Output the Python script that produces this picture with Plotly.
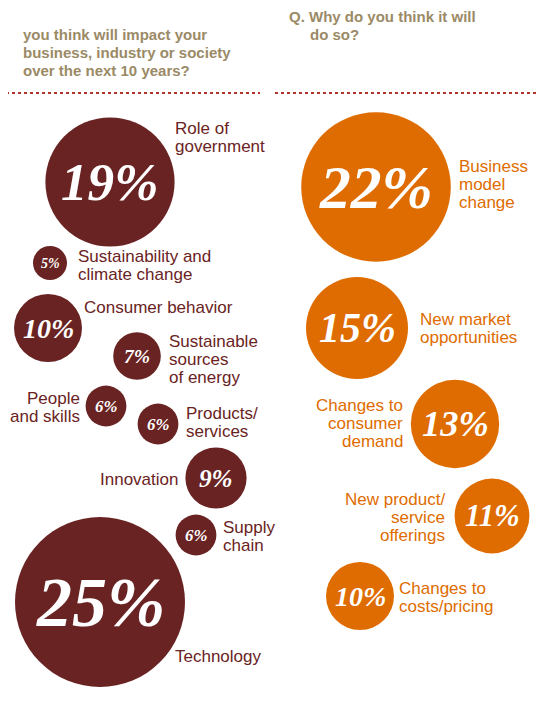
import plotly.graph_objects as go

left_labels = ["Role of<br>government", "Sustainability and<br>climate change", "Consumer behavior",
               "Sustainable<br>sources<br>of energy", "People<br>and skills", "Products/<br>services",
               "Innovation", "Supply<br>chain", "Technology"]
left_values = [19, 5, 10, 7, 6, 6, 9, 6, 25]
right_labels = ["Business<br>model<br>change", "New market<br>opportunities", "Changes to<br>consumer<br>demand",
                "New product/<br>service<br>offerings", "Changes to<br>costs/pricing"]
right_values = [22, 15, 13, 11, 10]

# layout (pixel positions of bubble centres and labels)
left_pos = [(110, 182), (50, 263), (48, 328), (137, 356), (106, 406), (158, 424), (216, 478), (196, 535), (100, 602)]
left_lab = [(173, 137, "left"), (76, 265, "left"), (82, 307, "left"), (167, 359, "left"), (82, 407, "right"),
            (184, 422, "left"), (180, 479, "right"), (221, 536, "left"), (173, 656, "left")]
right_pos = [(376, 187), (357, 328), (455, 424), (492, 516), (360, 596)]
right_lab = [(457, 184, "left"), (418, 328, "left"), (405, 423, "right"), (447, 517, "right"), (397, 597, "left")]

DARK = "#6a2323"
ORANGE = "#de6c00"
TITLE = "#9b8a66"
LH = 18
OFF = 8  # page body offset compensation

fig = go.Figure()
anns = []

def lines(text, x, y, anchor, color, size, bold=False):
    parts = text.split("<br>")
    y0 = y - (len(parts) - 1) * LH / 2
    for i, p in enumerate(parts):
        anns.append(dict(x=x, y=y0 + i * LH, text=f"<b>{p}</b>" if bold else p, showarrow=False,
                         xanchor=anchor, yanchor="middle",
                         font=dict(family="Liberation Sans", size=size, color=color)))

def add(values, labels, pos, lab, color):
    fig.add_trace(go.Scatter(
        x=[p[0] for p in pos], y=[p[1] for p in pos], mode="markers",
        marker=dict(size=[6.8 * v for v in values], color=color, line=dict(width=0), opacity=1),
        hoverinfo="skip", showlegend=False))
    for v, (x, y) in zip(values, pos):
        anns.append(dict(x=x, y=y, text=f"<b><i>{v}%</i></b>", showarrow=False,
                         font=dict(family="Liberation Serif", size=max(12, 2.8 * v), color="white")))
    for t, (x, y, a) in zip(labels, lab):
        lines(t, x, y, a, color, 17)

add(left_values, left_labels, left_pos, left_lab, DARK)
add(right_values, right_labels, right_pos, right_lab, ORANGE)

t1 = ["Q. What’s the next big thing that", "you think will impact your",
      "business, industry or society", "over the next 10 years?"]
t2 = ["Q. Why do you think it will", "do so?"]
for i, s in enumerate(t1):
    lines(s, 0 if i == 0 else 21, 16 + i * LH, "left", TITLE, 15, bold=True)
for i, s in enumerate(t2):
    lines(s, 287 if i == 0 else 308, 16 + i * LH, "left", TITLE, 15, bold=True)

shapes = [dict(type="line", x0=0, x1=260, y0=93, y1=93, line=dict(color="#b5312a", width=2, dash="dot")),
          dict(type="line", x0=275, x1=547, y0=93, y1=93, line=dict(color="#b5312a", width=2, dash="dot"))]

fig.update_layout(width=547, height=705, margin=dict(l=0, r=0, t=0, b=0),
                  plot_bgcolor="white", paper_bgcolor="white",
                  xaxis=dict(range=[OFF, 547 + OFF], visible=False, fixedrange=True),
                  yaxis=dict(range=[705 + OFF, OFF], visible=False, fixedrange=True),
                  annotations=anns, shapes=shapes)
fig.write_html("out.html")
